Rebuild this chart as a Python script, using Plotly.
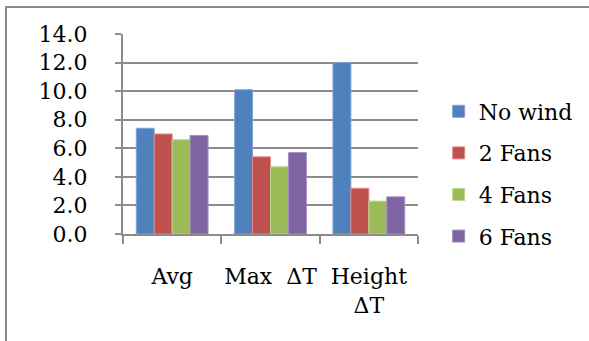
import plotly.graph_objects as go

categories = ["Avg", "Max\u00a0 ΔT", "Height<br>ΔT"]
series_names = ["No wind", "2 Fans", "4 Fans", "6 Fans"]
no_wind = [7.4, 10.1, 12.0]
fans_2 = [7.0, 5.4, 3.2]
fans_4 = [6.6, 4.7, 2.3]
fans_6 = [6.9, 5.7, 2.6]
y_ticks = [0, 2, 4, 6, 8, 10, 12, 14]

colors = ["#4F81BD", "#C0504D", "#9BBB59", "#8064A2"]
edge = ["#7FA3D3", "#E08A88", "#BCD68A", "#A48FC3"]
FONT = "DejaVu Serif"
GRID = "#8C8C8C"

fig = go.Figure()
for name, vals, c, e in zip(series_names, [no_wind, fans_2, fans_4, fans_6], colors, edge):
    fig.add_trace(go.Bar(
        x=categories, y=vals, name=name, legendgroup=name,
        marker=dict(color=c, line=dict(color=e, width=1)),
    ))

fig.update_layout(
    width=589, height=341,
    margin=dict(l=123, r=171, t=34, b=107, autoexpand=False),
    paper_bgcolor="white", plot_bgcolor="white",
    barmode="group", bargap=0.27, bargroupgap=0,
    font=dict(family=FONT, size=22, color="#000000"),
    legend=dict(
        x=1.07, xanchor="left", y=0.30, yanchor="middle",
        font=dict(family=FONT, size=22, color="#000000"),
        tracegroupgap=10, bgcolor="rgba(0,0,0,0)",
    ),
    shapes=[
        dict(type="rect", xref="paper", yref="paper", layer="above",
             x0=(6 - 123) / 295, x1=(600 - 123) / 295,
             y0=(234 - 350) / 200, y1=(234 - 7) / 200,
             line=dict(color=GRID, width=2), fillcolor="rgba(0,0,0,0)"),
    ],
)

fig.update_xaxes(
    type="category", showgrid=False, showline=True, linecolor=GRID, linewidth=2,
    ticks="outside", tickson="boundaries", ticklen=8, tickwidth=2, tickcolor=GRID,
    tickangle=0, automargin=False,
    ticklabelstandoff=22, tickfont=dict(family=FONT, size=22, color="#000000"),
)
fig.update_yaxes(
    range=[0, 14], tickvals=y_ticks, tickformat=".1f",
    showgrid=True, gridcolor=GRID, gridwidth=2,
    showline=True, linecolor=GRID, linewidth=2, zeroline=False,
    ticks="outside", ticklen=6, tickwidth=2, tickcolor=GRID, automargin=False,
    ticklabelstandoff=23, tickfont=dict(family=FONT, size=22, color="#000000"),
)

fig.write_html(
    "out.html",
    config={"displayModeBar": False},
    post_script="document.body.style.margin='0';document.body.style.overflow='hidden';",
)
